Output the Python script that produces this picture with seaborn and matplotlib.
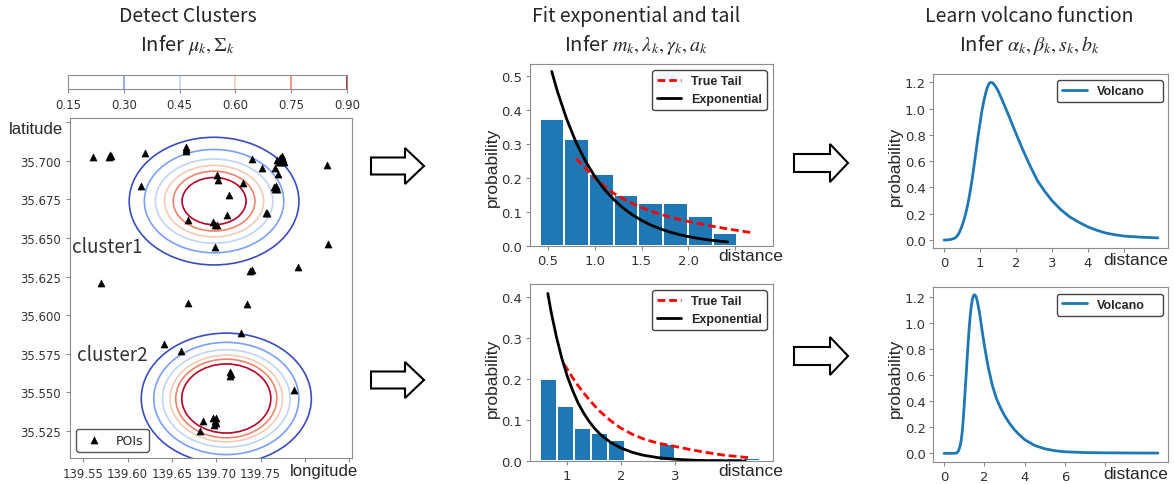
import numpy as np
import seaborn as sns
import matplotlib.pyplot as plt
from matplotlib.patches import Ellipse, Polygon
from matplotlib.colors import Normalize

# ---- data ----
poi_lon = [139.5613, 139.5790, 139.5805, 139.5815, 139.6196, 139.6660, 139.6660, 139.6662,
           139.6151, 139.7005, 139.7016, 139.7148, 139.7299, 139.7400, 139.7513, 139.7680,
           139.7720, 139.7740, 139.7750, 139.7730, 139.7710, 139.7760, 139.7664, 139.7701,
           139.7650, 139.7665, 139.7680, 139.7670, 139.7559, 139.7570, 139.8254, 139.7125,
           139.6685, 139.6967, 139.6985, 139.7010, 139.6990, 139.8265, 139.7920, 139.7385,
           139.7400, 139.5700, 139.6685, 139.7344, 139.7276, 139.6411, 139.6599, 139.7150,
           139.7165, 139.7155, 139.7880, 139.6848, 139.6960, 139.6985, 139.7000, 139.6975,
           139.6995, 139.6817]
poi_lat = [35.7026, 35.7026, 35.7040, 35.7033, 35.7048, 35.7087, 35.7065, 35.7075,
           35.6834, 35.6909, 35.6875, 35.6778, 35.6857, 35.7011, 35.6955, 35.7005,
           35.7020, 35.7030, 35.7010, 35.6995, 35.6990, 35.6990, 35.6955, 35.6914,
           35.6830, 35.6820, 35.6815, 35.6835, 35.6661, 35.6665, 35.6972, 35.6648,
           35.6616, 35.6601, 35.6583, 35.6585, 35.6443, 35.6458, 35.6309, 35.6285,
           35.6292, 35.6209, 35.6078, 35.6071, 35.5883, 35.5814, 35.5767, 35.5630,
           35.5615, 35.5605, 35.5514, 35.5315, 35.5330, 35.5315, 35.5300, 35.5290,
           35.5335, 35.5250]

levels = [0.15, 0.30, 0.45, 0.60, 0.75, 0.90]
cluster_lon = [139.6975, 139.7113]
cluster_lat = [35.6739, 35.5459]
c1_half_lon = [0.0957, 0.0786, 0.0662, 0.0559, 0.0461, 0.0361]
c1_half_lat = [0.0414, 0.0335, 0.0273, 0.0232, 0.0194, 0.0153]
c2_half_lon = [0.0959, 0.0818, 0.0720, 0.0634, 0.0570, 0.0502]
c2_half_lat = [0.0424, 0.0364, 0.0316, 0.0281, 0.0255, 0.0224]

# cluster 1 histogram + fits
h1_edges = [0.41, 0.674, 0.938, 1.202, 1.466, 1.73, 1.994, 2.258, 2.522]
h1_prob = [0.374, 0.313, 0.212, 0.151, 0.126, 0.126, 0.089, 0.038]
exp1_x = [0.54, 0.6, 0.7, 0.8, 0.9, 1.0, 1.1, 1.2, 1.3, 1.4, 1.5, 1.6, 1.7, 1.8, 1.9,
          2.0, 2.1, 2.2, 2.3, 2.42]
exp1_y = [0.512, 0.454, 0.372, 0.304, 0.249, 0.204, 0.167, 0.137, 0.112, 0.0917, 0.0751,
          0.0615, 0.0503, 0.0412, 0.0337, 0.0276, 0.0226, 0.0185, 0.0152, 0.0119]
tail1_x = [0.8, 0.9, 1.0, 1.1, 1.2, 1.3, 1.4, 1.5, 1.6, 1.8, 2.0, 2.2, 2.4, 2.68]
tail1_y = [0.257, 0.228, 0.200, 0.176, 0.155, 0.139, 0.125, 0.113, 0.102, 0.085, 0.072,
           0.061, 0.051, 0.039]

# cluster 2 histogram + fits
h2_edges = [0.5, 0.813, 1.126, 1.439, 1.752, 2.065, 2.378, 2.691, 3.004, 3.317, 3.63,
            3.943, 4.256, 4.569]
h2_prob = [0.20, 0.135, 0.08, 0.068, 0.052, 0.0, 0.0, 0.042, 0.008, 0.0, 0.008, 0.008, 0.008]
exp2_x = [0.64, 0.7, 0.8, 0.9, 1.0, 1.1, 1.2, 1.3, 1.4, 1.5, 1.6, 1.8, 2.0, 2.2, 2.4,
          2.7, 3.0, 3.4, 3.8, 4.3]
exp2_y = [0.408, 0.364, 0.302, 0.250, 0.207, 0.172, 0.142, 0.118, 0.098, 0.081, 0.067,
          0.046, 0.032, 0.022, 0.015, 0.0085, 0.0049, 0.0023, 0.0011, 0.0004]
tail2_x = [0.94, 1.0, 1.1, 1.2, 1.3, 1.4, 1.5, 1.6, 1.8, 2.0, 2.2, 2.4, 2.6, 2.8, 3.0,
           3.3, 3.6, 3.9, 4.2, 4.41]
tail2_y = [0.236, 0.224, 0.203, 0.184, 0.167, 0.151, 0.136, 0.122, 0.099, 0.080, 0.066,
           0.055, 0.047, 0.041, 0.036, 0.028, 0.021, 0.015, 0.011, 0.008]

# volcano functions
volc1_x = [0.0, 0.1, 0.2, 0.3, 0.35, 0.4, 0.45, 0.5, 0.55, 0.6, 0.65, 0.7, 0.75, 0.8,
           0.85, 0.9, 0.95, 1.0, 1.05, 1.1, 1.15, 1.2, 1.25, 1.3, 1.35, 1.4, 1.45, 1.5,
           1.55, 1.6, 1.7, 1.8, 1.9, 2.0, 2.2, 2.4, 2.6, 2.8, 3.0, 3.25, 3.5, 3.75, 4.0,
           4.25, 4.5, 4.75, 5.0, 5.5, 5.95]
volc1_y = [0.0, 0.001, 0.005, 0.015, 0.027, 0.045, 0.073, 0.11, 0.15, 0.20, 0.26, 0.33,
           0.41, 0.50, 0.60, 0.70, 0.80, 0.89, 0.98, 1.05, 1.11, 1.16, 1.19, 1.20, 1.195,
           1.18, 1.16, 1.135, 1.105, 1.075, 1.01, 0.945, 0.877, 0.81, 0.68, 0.56, 0.45,
           0.37, 0.30, 0.23, 0.175, 0.135, 0.10, 0.074, 0.053, 0.040, 0.030, 0.021, 0.016]
volc2_x = [0.0, 0.3, 0.5, 0.6, 0.65, 0.7, 0.75, 0.8, 0.85, 0.9, 0.95, 1.0, 1.05, 1.1,
           1.15, 1.2, 1.25, 1.3, 1.35, 1.4, 1.45, 1.5, 1.55, 1.6, 1.65, 1.7, 1.75, 1.8,
           1.9, 2.0, 2.1, 2.2, 2.4, 2.6, 2.8, 3.0, 3.25, 3.5, 3.75, 4.0, 4.5, 5.0, 5.5,
           6.0, 7.0, 8.0, 9.0, 10.6]
volc2_y = [0.0, 0.0, 0.0, 0.002, 0.006, 0.015, 0.032, 0.06, 0.10, 0.16, 0.255, 0.37,
           0.49, 0.61, 0.74, 0.86, 0.97, 1.06, 1.13, 1.18, 1.21, 1.22, 1.215, 1.20, 1.17,
           1.13, 1.09, 1.04, 0.93, 0.83, 0.74, 0.655, 0.52, 0.42, 0.35, 0.29, 0.23, 0.18,
           0.14, 0.105, 0.06, 0.035, 0.02, 0.012, 0.006, 0.004, 0.003, 0.002]

# ---- style ----
sns.set_style('ticks')
plt.rcParams['font.family'] = ['DejaVu Sans']
plt.rcParams['mathtext.fontset'] = 'stix'
plt.rcParams['axes.edgecolor'] = '#8c8c8c'
plt.rcParams['xtick.color'] = '#8c8c8c'
plt.rcParams['ytick.color'] = '#8c8c8c'
plt.rcParams['xtick.labelcolor'] = '#333333'
plt.rcParams['ytick.labelcolor'] = '#333333'

blue = '#1f77b4'
title_font = ['Noto Sans CJK SC', 'DejaVu Sans']
label_font = 'Liberation Sans'
leg_prop = {'family': label_font, 'weight': 'bold', 'size': 9}

fig = plt.figure(figsize=(11.74, 4.85), dpi=100)

# arrows on an overlay in pixel coordinates
ov = fig.add_axes([0, 0, 1, 1], zorder=-1)
ov.set_xlim(0, 1174)
ov.set_ylim(485, 0)
ov.axis('off')


def block_arrow(x0, x1, xh, yc, shaft, head):
    pts = [(x0, yc - shaft / 2), (xh, yc - shaft / 2), (xh, yc - head / 2), (x1, yc),
           (xh, yc + head / 2), (xh, yc + shaft / 2), (x0, yc + shaft / 2)]
    ov.add_patch(Polygon(pts, closed=True, facecolor='white', edgecolor='black', lw=1.5))


block_arrow(371, 424, 405, 167, 17, 36)
block_arrow(371, 424, 405, 381, 17, 36)
block_arrow(794, 848, 830, 164, 18, 38)
block_arrow(794, 848, 830, 357, 18, 38)

# titles
for x, l1, l2 in [(0.160, 'Detect Clusters', r'Infer $\mu_k,\Sigma_k$'),
                  (0.542, 'Fit exponential and tail', r'Infer $m_k,\lambda_k,\gamma_k,a_k$'),
                  (0.877, 'Learn volcano function', r'Infer $\alpha_k,\beta_k,s_k,b_k$')]:
    fig.text(x, 0.966, l1, ha='center', va='center', fontsize=14, family=title_font)
    fig.text(x, 0.907, l2, ha='center', va='center', fontsize=14.5, family=title_font)

# ---- left: clusters ----
cmap = plt.get_cmap('coolwarm')
norm = Normalize(levels[0], levels[-1])

ax0 = fig.add_axes([0.0596, 0.0536, 0.2402, 0.701])
for hw_list, hh_list, cx, cy in [(c1_half_lon, c1_half_lat, cluster_lon[0], cluster_lat[0]),
                                 (c2_half_lon, c2_half_lat, cluster_lon[1], cluster_lat[1])]:
    for lv, hw, hh in zip(levels, hw_list, hh_list):
        ax0.add_patch(Ellipse((cx, cy), 2 * hw, 2 * hh, fill=False,
                              edgecolor=cmap(norm(lv)), lw=1.2))
sns.scatterplot(x=poi_lon, y=poi_lat, marker='^', color='black', edgecolor='black',
                s=26, linewidth=0.4, label='POIs', ax=ax0, zorder=3)
ax0.set_xlim(139.535, 139.853)
ax0.set_ylim(35.5073, 35.7278)
lon_ticks = [139.55, 139.60, 139.65, 139.70, 139.75, 139.80, 139.85]
lat_ticks = [35.525, 35.550, 35.575, 35.600, 35.625, 35.650, 35.675, 35.700, 35.725]
ax0.set_xticks(lon_ticks, [f'{v:.2f}' for v in lon_ticks[:5]] + ['', ''])
ax0.set_yticks(lat_ticks, [f'{v:.3f}' for v in lat_ticks[:-1]] + [''])
ax0.tick_params(labelsize=8.5, length=3)
ax0.text(-0.025, 0.968, 'latitude', transform=ax0.transAxes, ha='right', va='center',
         fontsize=12, family=label_font)
ax0.text(1.022, -0.016, 'longitude', transform=ax0.transAxes, ha='right', va='top',
         fontsize=12, family=label_font)
ax0.text(0.007, 0.6235, 'cluster1', transform=ax0.transAxes, ha='left', va='center',
         fontsize=13.5, family=title_font, color='#333333')
ax0.text(0.025, 0.303, 'cluster2', transform=ax0.transAxes, ha='left', va='center',
         fontsize=13.5, family=title_font, color='#333333')
ax0.legend(loc='lower left', fontsize=9, edgecolor='#555555', framealpha=1)

# colorbar of contour levels
cax = fig.add_axes([0.0579, 0.8144, 0.2376, 0.0289])
for lv in levels:
    cax.axvline(lv, color=cmap(norm(lv)), lw=1.2)
cax.set_xlim(levels[0], levels[-1])
cax.set_yticks([])
cax.set_xticks(levels, [f'{v:.2f}' for v in levels])
cax.tick_params(labelsize=8.5, length=3)


# ---- middle: histograms with exponential and tail ----
def hist_panel(rect, edges, probs, tx, ty, ex, ey, xlim, ylim, xticks, xlabels, yticks, ylab_y):
    ax = fig.add_axes(rect)
    centers = [(a + b) / 2 for a, b in zip(edges[:-1], edges[1:])]
    sns.histplot(x=centers, weights=probs, bins=edges, color=blue, alpha=1,
                 edgecolor='white', linewidth=1.4, ax=ax)
    sns.lineplot(x=tx, y=ty, color='red', linestyle=(0, (2.8, 1.4)), lw=2,
                 label='True Tail', ax=ax)
    sns.lineplot(x=ex, y=ey, color='black', lw=2, label='Exponential', ax=ax)
    ax.set_xlim(*xlim)
    ax.set_ylim(*ylim)
    ax.set_xticks(xticks, xlabels)
    ax.set_yticks(yticks, [f'{v:.1f}' for v in yticks])
    ax.tick_params(labelsize=9.5, length=3, pad=2.5)
    ax.set_xlabel('')
    ax.set_ylabel('probability', fontsize=12.5, family=label_font)
    ax.yaxis.set_label_coords(-0.125, ylab_y)
    ax.text(1.04, -0.01, 'distance', transform=ax.transAxes, ha='right', va='top',
            fontsize=12.5, family=label_font)
    ax.legend(loc='upper right', prop=leg_prop, edgecolor='#444444', framealpha=1,
              handlelength=1.9)
    return ax


hist_panel([0.4514, 0.4907, 0.207, 0.3753], h1_edges, h1_prob, tail1_x, tail1_y,
           exp1_x, exp1_y, (0.307, 2.904), (0, 0.534), [0.5, 1.0, 1.5, 2.0, 2.5],
           ['0.5', '1.0', '1.5', '2.0', ''], [0.0, 0.1, 0.2, 0.3, 0.4, 0.5], 0.44)
hist_panel([0.4514, 0.0468, 0.207, 0.3656], h2_edges, h2_prob, tail2_x, tail2_y,
           exp2_x, exp2_y, (0.309, 4.81), (0, 0.431), [1, 2, 3, 4],
           ['1', '2', '3', ''], [0.0, 0.1, 0.2, 0.3, 0.4], 0.474)


# ---- right: volcano functions ----
def volcano_panel(rect, vx, vy, xlim, ylim, xticks, ylab_y):
    ax = fig.add_axes(rect)
    sns.lineplot(x=vx, y=vy, color=blue, lw=2, label='Volcano', ax=ax)
    ax.set_xlim(*xlim)
    ax.set_ylim(*ylim)
    ax.set_xticks(xticks, [str(v) for v in xticks[:-1]] + [''])
    ax.set_yticks([0.0, 0.2, 0.4, 0.6, 0.8, 1.0, 1.2])
    ax.tick_params(labelsize=9.5, length=3, pad=2.5)
    ax.set_ylabel('probability', fontsize=12.5, family=label_font)
    ax.yaxis.set_label_coords(-0.128, ylab_y)
    ax.text(1.0, -0.022, 'distance', transform=ax.transAxes, ha='right', va='top',
            fontsize=12.5, family=label_font)
    ax.legend(loc='upper right', bbox_to_anchor=(0.526, 0, 0.451, 0.964), mode='expand',
              borderaxespad=0, prop=leg_prop, edgecolor='#444444', framealpha=1)
    return ax


volcano_panel([0.795, 0.486, 0.1999, 0.3594], volc1_x, volc1_y, (-0.3, 6.23),
              (-0.063, 1.263), [0, 1, 2, 3, 4, 5], 0.474)
volcano_panel([0.795, 0.0447, 0.1999, 0.3608], volc2_x, volc2_y, (-0.53, 11.1),
              (-0.069, 1.277), [0, 2, 4, 6, 8], 0.486)

fig.savefig('out.png', dpi=100)
